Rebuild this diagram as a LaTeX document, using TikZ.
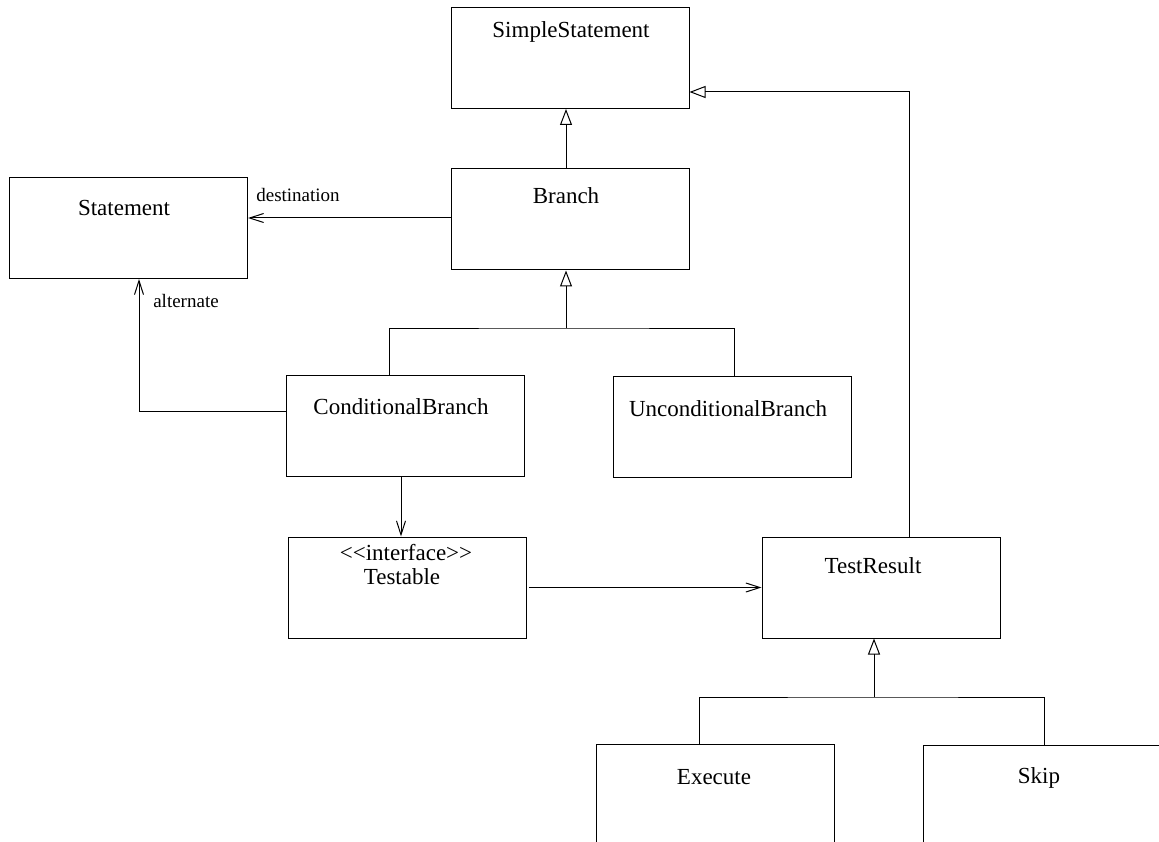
\documentclass[tikz,border=0pt]{standalone}
\usepackage{fontspec}
\setmainfont[Ligatures=TeXOff]{Liberation Serif}
\usetikzlibrary{arrows.meta}
\tikzset{
  umlbox/.style={draw, line width=1pt, rectangle, inner sep=0pt, minimum width=238pt, minimum height=101pt},
  cname/.style={anchor=base, inner sep=0pt, font=\fontsize{23}{27}\selectfont},
  rname/.style={anchor=base, inner sep=0pt, font=\fontsize{19}{22}\selectfont},
  conn/.style={line width=1pt},
  gen/.style={conn, -{Triangle[open, length=16pt, width=12pt, line width=1pt]}},
  assoc/.style={conn, -{Straight Barb[length=14pt, width=9pt, line width=1pt]}}
}
\begin{document}
\begin{tikzpicture}[x=1pt, y=-1pt]
\useasboundingbox (0,0) rectangle (1159,842);
\clip (0,0) rectangle (1159,842);
% boxes
\node[umlbox] (simple) at (570,58) {};
\node[umlbox] (branch) at (570,219.5) {};
\node[umlbox] (statement) at (128.5,228) {};
\node[umlbox] (cond) at (405.5,426) {};
\node[umlbox] (uncond) at (732.5,426.5) {};
\node[umlbox] (testable) at (407.5,587.5) {};
\node[umlbox] (testresult) at (881,587.5) {};
\node[umlbox] (execute) at (715.5,795) {};
\node[umlbox] (skip) at (1042.5,796) {};
% texts
\node[cname] (simpleT) at (571,38) {SimpleStatement};
\node[cname] (branchT) at (566,204) {Branch};
\node[cname] (statementT) at (124,216) {Statement};
\node[cname] (condT) at (401,414) {ConditionalBranch};
\node[cname] (uncondT) at (728,416) {UnconditionalBranch};
\node[cname] (ifaceT) at (406,560) {<\kern0pt<interface>\kern0pt>};
\node[cname] (testableT) at (402,584) {Testable};
\node[cname] (testresultT) at (873,573) {TestResult};
\node[cname] (executeT) at (714,784) {Execute};
\node[cname] (skipT) at (1039,783) {Skip};
\node[rname] (destT) at (298,202) {destination};
\node[rname] (altT) at (186,308) {alternate};
% helper coordinates
\coordinate (xb) at (566,0);
\coordinate (xtr) at (909,0);
\coordinate (y92) at (0,92);
\coordinate (y218) at (0,218);
\coordinate (y411) at (0,411);
\coordinate (xalt) at (139,0);
\coordinate (g1) at (566,328);
\coordinate (xc) at (389,0);
\coordinate (xu) at (734,0);
\coordinate (xct) at (401,0);
\coordinate (g2) at (874,697);
\coordinate (xe) at (699,0);
\coordinate (xs) at (1044,0);
% generalizations
\draw[gen] (branch.north -| xb) -- (simple.south -| xb);
\draw[gen] (testresult.north -| xtr) |- (simple.east |- y92);
\draw[gen] (g1) -- (branch.south -| g1);
\draw[conn] (cond.north -| xc) |- (g1) -| (uncond.north -| xu);
\draw[gen] (g2) -- (testresult.south -| g2);
\draw[conn] (execute.north -| xe) |- (g2) -| (skip.north -| xs);
% associations
\draw[assoc] (branch.west |- y218) -- (statement.east |- y218);
\draw[assoc] (cond.west |- y411) -| (statement.south -| xalt);
\draw[assoc] (cond.south -| xct) -- (testable.north -| xct);
\draw[assoc, shorten <=2pt] (testable.east) -- (testresult.west);
\end{tikzpicture}
\end{document}
